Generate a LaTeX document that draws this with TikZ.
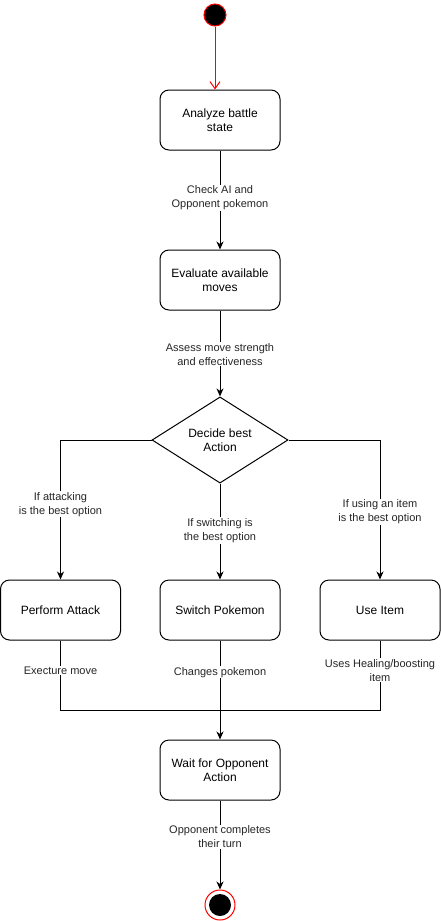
\documentclass[tikz,border=0pt]{standalone}
\usepackage{fontspec}
\setmainfont{Liberation Sans}
\usetikzlibrary{shapes.geometric,arrows.meta}
\begin{document}
\begin{tikzpicture}[x=1pt,y=-1pt,
  box/.style={draw=black,line width=1pt,rounded corners=9pt,minimum width=120pt,minimum height=60pt,align=center,font=\fontsize{12}{14}\selectfont,inner sep=0pt,fill=white},
  dec/.style={draw=black,line width=1pt,diamond,minimum width=136pt,minimum height=80pt,inner sep=0pt,align=center,font=\fontsize{12}{14}\selectfont},
  lbl/.style={fill=white,inner sep=1pt,align=center,font=\fontsize{11}{14}\selectfont,text=black!85},
  flow/.style={draw=black,line width=1pt,-{Stealth[length=8pt,width=7pt,inset=2.5pt]}},
  seg/.style={draw=black,line width=1pt}]
\useasboundingbox (0,0) rectangle (441,921);
\node[circle,draw=red,fill=black,line width=1pt,minimum size=22pt,inner sep=0pt] (start) at (215,15) {};
\node[box] (a1) at (220,120) {Analyze battle\\state};
\node[box] (a2) at (220,280) {Evaluate available\\moves};
\node[dec] (d) at (220,440) {Decide best\\Action};
\node[box] (b1) at (60.5,610) {Perform Attack};
\node[box] (b2) at (220,610) {Switch Pokemon};
\node[box] (b3) at (380,610) {Use Item};
\node[box] (w) at (220,770) {Wait for Opponent\\Action};
\node[circle,draw=red,fill=white,line width=1pt,minimum size=30pt,inner sep=0pt] (endo) at (220,905) {};
\node[circle,fill=black,minimum size=22pt,inner sep=0pt] (endi) at (endo.center) {};
\coordinate (merge) at (220,710);

\draw[draw=red,line width=1pt,-{Straight Barb[length=7pt,width=10pt]}] (start.south) -- (start.south |- a1.north);
\draw[flow] (a1.south) -- node[lbl,pos=0.48] {Check AI and\\Opponent pokemon} (a2.north);
\draw[flow] (a2.south) -- node[lbl,pos=0.51] {Assess move strength\\and effectiveness} (d.north);
\draw[flow] (d.west) -| node[lbl,pos=0.73] {If attacking\\is the best option} (b1.north);
\draw[flow] (d.south) -- node[lbl,pos=0.49] {If switching is\\the best option} (b2.north);
\draw[flow] (d.east) -| node[lbl,pos=0.757] {If using an item\\is the best option} (b3.north);
\draw[seg] (b1.south) -- node[lbl,pos=0.43] {Execture move} (b1.south |- merge) -- (merge);
\draw[seg] (b3.south) -- node[lbl,pos=0.43] {Uses Healing/boosting\\item} (b3.south |- merge) -- (merge);
\draw[flow] (b2.south) -- node[lbl,pos=0.32] {Changes pokemon} (w.north);
\draw[flow] (w.south) -- node[lbl,pos=0.41] {Opponent completes\\their turn} (endo.north);
\end{tikzpicture}
\end{document}
